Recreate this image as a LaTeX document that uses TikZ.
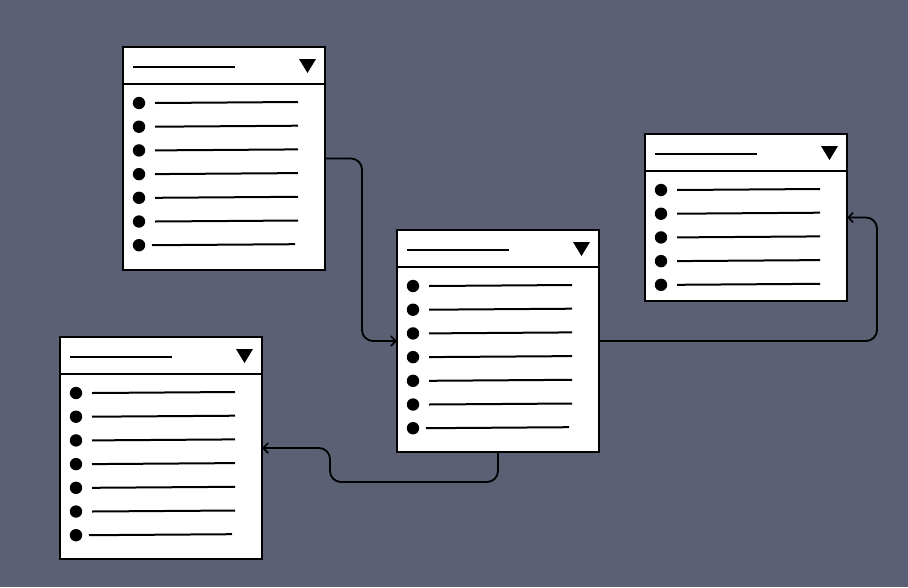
\documentclass[tikz,border=0pt]{standalone}
\usetikzlibrary{arrows.meta}
\definecolor{bgcol}{RGB}{91,96,117}
\tikzset{
  tbl/.style={draw=black, fill=white, line width=2.4pt, inner sep=0pt, outer sep=0pt, minimum width=202pt, anchor=north west},
  sepline/.style={line width=2pt, draw=black},
  itemline/.style={line width=2pt, draw=black},
  headline/.style={line width=1.8pt, draw=black},
  bulletdot/.style={fill=black},
  conn/.style={draw=black, line width=1.8pt, rounded corners=11pt, -{Straight Barb[length=5pt,width=10pt,line width=1.6pt]}},
}
% #1 name, #2 x, #3 y, #4 height, #5 number of items
\newcommand\drawtable[5]{%
  \begin{scope}[shift={(#2,#3)}]
    \node[tbl, minimum height=#4pt] (#1) at (0,0) {};
    \draw[sepline] (0,37) -- (202,37);
    \draw[headline] (10,20) -- (112,20);
    \fill (176,12) -- (193,12) -- (184.5,26) -- cycle;
    \foreach \i in {1,...,#5}{
      \pgfmathsetmacro\yy{56+(\i-1)*23.7}
      \fill[bulletdot] (16,\yy) circle (6.2);
      \ifnum\i=7
        \draw[itemline] (29,\yy) -- (172,\yy-1);
      \else
        \draw[itemline] (32,\yy) -- (175,\yy-1);
      \fi
    }
  \end{scope}%
}
\begin{document}
\begin{tikzpicture}[x=1pt,y=-1pt]
  \fill[bgcol] (0,0) rectangle (908,587);
  \useasboundingbox (0,0) rectangle (908,587);
  \drawtable{b1}{123}{47}{223}{7}
  \drawtable{b2}{397}{230}{222}{7}
  \drawtable{b3}{645}{134}{167}{5}
  \drawtable{b4}{60}{337}{222}{7}
  \draw[conn] (b1.east) -- ++(37,0) |- (b2.west);
  \draw[conn] (b2.east) -- ++(278,0) |- (b3.east);
  \coordinate (c3) at (330,482);
  \draw[conn] (b2.south) |- (c3) |- (b4.east);
\end{tikzpicture}
\end{document}
